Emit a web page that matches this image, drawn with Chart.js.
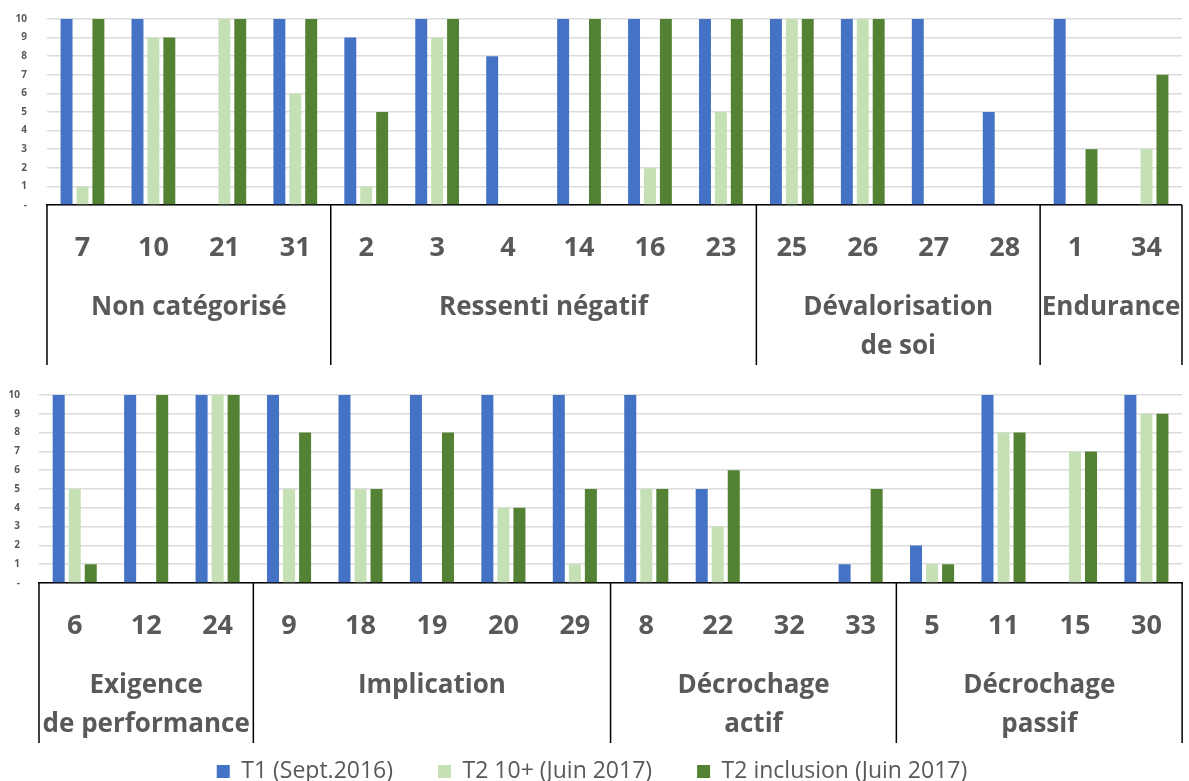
<!DOCTYPE html>
<html>
<head>
<meta charset="utf-8">
<script src="https://cdn.jsdelivr.net/npm/chart.js@4"></script>
<style>
  body { margin: 0; background: #fff; }
  #wrap { position: relative; width: 1189px; height: 781px; overflow: hidden; }
  .box { position: absolute; left: 0; width: 1189px; }
  #topBox { top: -7px; height: 387px; }
  #bottomBox { top: 370px; height: 411px; }
</style>
</head>
<body>
<div id="wrap">
  <div class="box" id="topBox"><canvas id="topChart"></canvas></div>
  <div class="box" id="bottomBox"><canvas id="bottomChart"></canvas></div>
</div>
<script>
const seriesNames = ['T1 (Sept.2016)', 'T2 10+ (Juin 2017)', 'T2 inclusion (Juin 2017)'];
const seriesColors = ['#4472C4', '#C5E0B4', '#548235'];

// panneau du haut
const topCategories = ['7', '10', '21', '31', '2', '3', '4', '14', '16', '23', '25', '26', '27', '28', '1', '34'];
const topGroups = [['Non catégorisé'], ['Ressenti négatif'], ['Dévalorisation', 'de soi'], ['Endurance']];
const topGroupSizes = [4, 6, 4, 2];
const topT1 = [10, 10, 0, 10, 9, 10, 8, 10, 10, 10, 10, 10, 10, 5, 10, 0];
const topT2plus = [1, 9, 10, 6, 1, 9, 0, 0, 2, 5, 10, 10, 0, 0, 0, 3];
const topT2incl = [10, 9, 10, 10, 5, 10, 0, 10, 10, 10, 10, 10, 0, 0, 3, 7];

// panneau du bas
const bottomCategories = ['6', '12', '24', '9', '18', '19', '20', '29', '8', '22', '32', '33', '5', '11', '15', '30'];
const bottomGroups = [['Exigence', 'de performance'], ['Implication'], ['Décrochage', 'actif'], ['Décrochage', 'passif']];
const bottomGroupSizes = [3, 5, 4, 4];
const bottomT1 = [10, 10, 10, 10, 10, 10, 10, 10, 10, 5, 0, 1, 2, 10, 0, 10];
const bottomT2plus = [5, 0, 10, 5, 5, 0, 4, 1, 5, 3, 0, 0, 1, 8, 7, 9];
const bottomT2incl = [1, 10, 10, 8, 5, 8, 4, 5, 5, 6, 0, 5, 1, 8, 7, 9];

const yTicks = [0, 1, 2, 3, 4, 5, 6, 7, 8, 9, 10];

const textColor = '#595959';
const fontFamily = "'Open Sans', sans-serif";

const groupPlugin = {
    id: 'groups',
    afterDraw(chart, args, opts) {
        const ctx = chart.ctx;
        const xs = chart.scales.x;
        const area = chart.chartArea;
        const n = chart.data.labels.length;

        let edges = [area.left];
        let idx = 0;
        opts.sizes.forEach(size => {
            idx += size;
            if (idx >= n) edges.push(area.right);
            else edges.push((xs.getPixelForValue(idx - 1) + xs.getPixelForValue(idx)) / 2);
        });

        ctx.save();
        ctx.strokeStyle = '#000';
        ctx.lineWidth = 1.5;
        edges.forEach(ex => {
            ctx.beginPath();
            ctx.moveTo(ex, area.bottom);
            ctx.lineTo(ex, area.bottom + 160);
            ctx.stroke();
        });

        ctx.fillStyle = textColor;
        ctx.font = 'bold 26px ' + fontFamily;
        ctx.textAlign = 'center';
        ctx.textBaseline = 'middle';
        opts.names.forEach((lines, i) => {
            const cx = (edges[i] + edges[i + 1]) / 2;
            lines.forEach((line, k) => {
                ctx.fillText(line, cx, area.bottom + 103 + k * 39);
            });
        });
        ctx.restore();
    }
};

function makeChart(canvasId, categories, t1, t2plus, t2incl, groups, sizes, yWidth, tickPad, xHeight, withLegend, pad) {
    const values = [t1, t2plus, t2incl];
    const datasets = seriesNames.map((name, i) => ({
        label: name,
        data: values[i],
        backgroundColor: seriesColors[i],
        borderWidth: 0,
        categoryPercentage: 0.673,
        barPercentage: 0.75
    }));

    return new Chart(document.getElementById(canvasId), {
        type: 'bar',
        data: { labels: categories, datasets: datasets },
        options: {
            responsive: true,
            maintainAspectRatio: false,
            animation: false,
            layout: { padding: pad },
            plugins: {
                legend: {
                    display: withLegend,
                    position: 'bottom',
                    maxHeight: 66,
                    labels: {
                        boxWidth: 13,
                        boxHeight: 13,
                        padding: 45,
                        color: textColor,
                        font: { family: fontFamily, size: 23 }
                    }
                },
                tooltip: { enabled: false },
                groups: { names: groups, sizes: sizes }
            },
            scales: {
                x: {
                    grid: { display: false, drawTicks: false },
                    border: { color: '#000', width: 1.5 },
                    ticks: {
                        color: textColor,
                        font: { family: fontFamily, size: 27, weight: 'bold' },
                        padding: 27,
                        maxRotation: 0,
                        autoSkip: false
                    },
                    afterFit(scale) { scale.height = xHeight; }
                },
                y: {
                    min: yTicks[0],
                    max: yTicks[yTicks.length - 1],
                    grid: { color: '#dcdcdc', lineWidth: 1.5, drawTicks: false },
                    border: { display: false },
                    afterBuildTicks(scale) { scale.ticks = yTicks.map(v => ({ value: v })); },
                    ticks: {
                        color: textColor,
                        padding: tickPad,
                        font: { family: fontFamily, size: 10, weight: 'bold' },
                        callback: v => v === 0 ? '-' : v
                    },
                    afterFit(scale) { scale.width = yWidth; }
                }
            }
        },
        plugins: [groupPlugin]
    });
}

makeChart('topChart', topCategories, topT1, topT2plus, topT2incl, topGroups, topGroupSizes,
    47, 20, 160, false, { top: 19, right: 1, bottom: 15, left: 0 });

makeChart('bottomChart', bottomCategories, bottomT1, bottomT2plus, bottomT2incl, bottomGroups, bottomGroupSizes,
    39, 19, 132, true, { top: 15, right: 5, bottom: 0, left: 0 });
</script>
</body>
</html>
